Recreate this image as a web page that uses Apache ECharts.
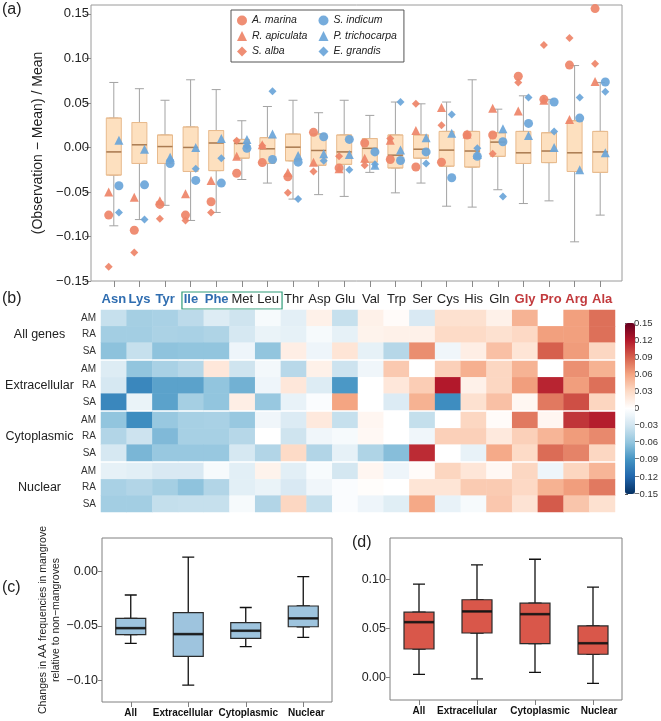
<!DOCTYPE html>
<html><head><meta charset="utf-8">
<script src="https://cdn.jsdelivr.net/npm/echarts@6/dist/echarts.min.js"></script>
<style>html,body{margin:0;padding:0;background:#fff}#c{width:661px;height:721px}</style>
</head><body><div id="c"></div>
<script>
// ---------------- DATA ----------------
const aminoAcids = ['Asn','Lys','Tyr','Ile','Phe','Met','Leu','Thr','Asp','Glu','Val','Trp','Ser','Cys','His','Gln','Gly','Pro','Arg','Ala'];
const blueAA = ['Asn','Lys','Tyr','Ile','Phe'];
const redAA = ['Gly','Pro','Arg','Ala'];
const boxedAA = ['Ile','Leu'];

// panel (a) box statistics
const boxMin    = [-0.088,-0.081,-0.065,-0.082,-0.073,-0.036,-0.040,-0.058,-0.053,-0.055,-0.028,-0.051,-0.040,-0.066,-0.067,-0.0475,-0.063,-0.060,-0.106,-0.076];
const boxQ1     = [-0.031,-0.018,-0.018,-0.027,-0.026,-0.012,-0.018,-0.015,-0.020,-0.019,-0.0165,-0.023,-0.012,-0.021,-0.022,-0.010,-0.018,-0.017,-0.027,-0.028];
const boxMedian = [-0.005,0.003,0.001,0.000,0.005,0.0045,-0.0015,0.0003,-0.0034,-0.005,-0.001,-0.0087,-0.002,-0.003,-0.004,0.006,-0.006,-0.004,-0.006,-0.005];
const boxQ3     = [0.033,0.028,0.014,0.023,0.019,0.009,0.011,0.015,0.015,0.014,0.010,0.014,0.014,0.018,0.018,0.0165,0.018,0.0165,0.030,0.018];
const boxMax    = [0.073,0.066,0.053,0.076,0.065,0.030,0.046,0.053,0.039,0.053,0.036,0.051,0.049,0.051,0.076,0.043,0.058,0.054,0.092,0.073];

// panel (a) species points
const aMarina      = [-0.076,-0.093,-0.064,-0.076,-0.061,-0.029,-0.017,-0.033,0.017,-0.023,0.005,-0.0135,-0.022,-0.0165,0.014,0.014,0.080,0.054,0.0925,0.156];
const rApiculata   = [-0.050,-0.056,-0.060,-0.052,-0.037,-0.010,0.003,-0.028,-0.0165,-0.024,-0.012,0.008,0.019,0.045,0.015,0.044,0.041,0.053,0.0315,0.074];
const sAlba        = [-0.134,-0.118,-0.080,-0.082,-0.073,0.0075,0.002,-0.051,-0.027,-0.010,-0.020,0.010,0.049,0.025,0.014,-0.007,0.073,0.115,0.123,0.094];
const sIndicum     = [-0.043,-0.042,-0.018,-0.037,-0.040,-0.001,-0.0135,-0.0165,0.012,0.009,-0.005,-0.0146,-0.005,-0.034,-0.010,0.0064,0.027,0.051,0.033,0.0735];
const pTrichocarpa = [0.008,-0.002,-0.011,0.000,0.010,0.009,0.015,-0.009,-0.007,-0.008,-0.020,-0.003,0.011,0.016,-0.008,0.021,0.0135,0.000,-0.025,-0.006];
const eGrandis     = [-0.073,-0.081,-0.014,-0.024,-0.012,0.0015,0.063,-0.058,-0.015,-0.025,-0.019,0.051,-0.018,0.037,-0.001,-0.055,0.056,0.018,0.056,0.0625];

// panel (b) heatmap
const heatRowNames = ['AM','RA','SA'];
const groupNames = ['All genes','Extracellular','Cytoplasmic','Nuclear'];
const allAM = [-0.035,-0.051,-0.049,-0.040,-0.022,-0.031,-0.006,-0.018,0.012,-0.035,0.012,0.003,-0.025,0.025,0.025,0.012,0.052,0.000,0.062,0.083];
const allRA = [-0.052,-0.052,-0.048,-0.049,-0.046,-0.027,-0.014,-0.016,-0.006,-0.016,0.010,0.012,0.012,0.030,0.030,0.025,0.031,0.062,0.062,0.083];
const allSA = [-0.062,-0.035,-0.061,-0.060,-0.060,-0.011,-0.060,0.014,-0.011,0.022,-0.016,-0.043,0.070,-0.010,0.014,0.045,0.022,0.090,0.064,0.032];
const extAM = [-0.022,-0.060,-0.049,-0.043,0.020,-0.031,-0.008,-0.042,0.012,-0.032,-0.010,0.040,0.000,0.036,0.054,0.032,0.052,0.000,0.069,0.053];
const extRA = [-0.027,-0.098,-0.081,-0.081,-0.060,-0.072,-0.011,0.020,-0.022,-0.087,0.000,0.020,0.038,0.120,0.012,0.032,0.063,0.115,0.063,0.083];
const extSA = [-0.098,-0.014,-0.081,-0.051,-0.060,0.014,-0.057,-0.015,-0.003,0.060,0.000,-0.023,0.053,-0.094,0.025,0.045,0.007,0.079,0.097,0.033];
const cytAM = [-0.060,-0.094,-0.057,-0.050,-0.049,-0.057,-0.010,-0.023,0.018,-0.035,0.0075,0.000,-0.036,0.000,0.032,0.003,0.079,0.0075,0.108,0.118];
const cytRA = [-0.045,-0.032,-0.067,-0.050,-0.050,-0.043,0.000,-0.031,-0.010,-0.006,0.006,0.000,-0.010,0.036,0.036,0.018,0.036,0.051,0.064,0.072];
const cytSA = [-0.027,-0.069,-0.057,-0.057,-0.057,-0.027,-0.045,0.030,-0.045,-0.016,-0.046,-0.064,0.112,0.000,-0.015,0.057,0.030,0.085,0.075,0.032];
const nucAM = [-0.016,-0.019,-0.025,-0.025,-0.006,-0.019,0.010,-0.019,-0.005,-0.028,0.0075,-0.011,0.003,0.033,0.021,0.006,0.032,-0.011,0.033,0.051];
const nucRA = [-0.049,-0.045,-0.051,-0.061,-0.045,-0.019,-0.014,-0.025,-0.010,-0.003,0.002,0.000,0.022,0.022,0.039,0.039,0.031,0.053,0.063,0.079];
const nucSA = [-0.052,-0.052,-0.036,-0.035,-0.035,-0.006,-0.045,0.032,-0.035,-0.003,-0.011,-0.020,0.058,-0.015,-0.006,0.041,0.023,0.092,0.042,0.025];
const colorbarTicks = [-0.15,-0.12,-0.09,-0.06,-0.03,0,0.03,0.06,0.09,0.12,0.15];

// panels (c) & (d)
const compartments = ['All','Extracellular','Cytoplasmic','Nuclear'];
const decreasedStats = [[-0.066,-0.058,-0.052,-0.043,-0.0215],[-0.1045,-0.078,-0.0575,-0.0378,0.0133],[-0.069,-0.0615,-0.0544,-0.047,-0.033],[-0.0605,-0.0507,-0.043,-0.0316,-0.0046]];
const increasedStats = [[0.003,0.029,0.0565,0.0667,0.0955],[-0.0017,0.0454,0.0675,0.0795,0.1153],[0.0051,0.0345,0.0647,0.076,0.121],[-0.0062,0.0236,0.0349,0.0527,0.0924]];
const ticksA = [-0.15,-0.10,-0.05,0,0.05,0.10,0.15];
const ticksC = [-0.10,-0.05,0];
const ticksD = [0,0.05,0.10];

// ---------------- CHART ----------------
const FONT = '"Liberation Sans", Arial, Helvetica, sans-serif';
const RED = '#ee8468', BLUE = '#6aa5d9';
const fmt = v => Math.abs(v) < 1e-9 ? '0.00' : (v < 0 ? '\u2212' : '') + Math.abs(v).toFixed(2);
const fmtCb = v => Math.abs(v) < 1e-9 ? '0' : (v < 0 ? '\u2212' : '') + Math.abs(v).toFixed(2);
const heatGroups = [[allAM, allRA, allSA],[extAM, extRA, extSA],[cytAM, cytRA, cytSA],[nucAM, nucRA, nucSA]];
const aStats = aminoAcids.map((_, i) => [boxMin[i], boxQ1[i], boxMedian[i], boxQ3[i], boxMax[i]]);

const chart = echarts.init(document.getElementById('c'));

const grids = [
  {left: 91, top: 5, width: 531, height: 276, show: true, borderColor: '#9a9a9a', borderWidth: 1},
  {left: 101, top: 5, width: 512, height: 276}
];
const heatTops = [310, 361, 412, 463];
heatTops.forEach(t => grids.push({left: 101, top: t, width: 514, height: 49}));
grids.push({left: 625, top: 323, width: 10, height: 171});
grids.push({left: 102, top: 538, width: 230, height: 164, show: true, borderColor: '#808080', borderWidth: 1});
grids.push({left: 390, top: 538, width: 232, height: 162, show: true, borderColor: '#808080', borderWidth: 1});

// small horizontal nudges of the (c)/(d) category labels, as in the original figure
const labelShift = [[0, -5.5, 2.5, 3], [0, -10, 5, 6]];
function shiftedLabelAxis(gi, shifts) {
  const rich = {};
  compartments.forEach((c, i) => {
    const s = shifts[i];
    rich['k' + i] = {fontWeight: 'bold', fontSize: 10, color: '#111', fontFamily: FONT,
      padding: s < 0 ? [0, -2 * s, 0, 0] : [0, 0, 0, 2 * s]};
  });
  return {
    gridIndex: gi, type: 'category', data: compartments, axisLine: {show: false, onZero: false},
    axisTick: {show: true, alignWithLabel: true, interval: 0, length: 5, lineStyle: {color: '#808080'}},
    axisLabel: {interval: 0, margin: 6, formatter: (v, i) => '{k' + i + '|' + v + '}', rich}
  };
}

const xAxes = [
  {gridIndex: 0, type: 'value', show: false, min: 0, max: 1},
  {gridIndex: 1, type: 'category', data: aminoAcids, axisLine: {show: false, onZero: false},
   axisTick: {show: true, alignWithLabel: true, interval: 0, length: 6, lineStyle: {color: '#8a8a8a'}},
   axisLabel: {show: false}},
  {gridIndex: 1, type: 'value', show: false, min: -0.5, max: 19.5}
];
heatGroups.forEach((g, gi) => xAxes.push({
  gridIndex: 2 + gi, type: 'category', data: aminoAcids, position: 'top',
  axisLine: {show: false}, axisTick: {show: false},
  axisLabel: gi === 0 ? {
    show: true, interval: 0, margin: 4, fontSize: 13, color: '#222', fontFamily: FONT,
    formatter: v => blueAA.includes(v) ? '{b|' + v + '}' : redAA.includes(v) ? '{r|' + v + '}' : v,
    rich: {b: {color: '#2f6db0', fontWeight: 'bold', fontSize: 13, fontFamily: FONT},
           r: {color: '#c23a3d', fontWeight: 'bold', fontSize: 13, fontFamily: FONT}}
  } : {show: false}
}));
xAxes.push({gridIndex: 6, type: 'value', show: false, min: 0, max: 1});
xAxes.push(shiftedLabelAxis(7, labelShift[0]));
xAxes.push(shiftedLabelAxis(8, labelShift[1]));
// hidden twin category axes (so stacked boxplot layers are not laid side by side)
xAxes.push({gridIndex: 1, type: 'category', data: aminoAcids, show: false}); // 10
xAxes.push({gridIndex: 7, type: 'category', data: compartments, show: false}); // 11
xAxes.push({gridIndex: 8, type: 'category', data: compartments, show: false}); // 12

const yAxes = [
  {gridIndex: 0, type: 'value', min: -0.15, max: 0.16, splitLine: {show: false}, axisLine: {show: false},
   axisTick: {show: true, length: 6, customValues: ticksA, lineStyle: {color: '#8a8a8a'}},
   axisLabel: {customValues: ticksA, formatter: fmt, fontSize: 13, color: '#222', margin: 2, fontFamily: FONT},
   name: '(Observation \u2212 Mean) / Mean', nameLocation: 'middle', nameGap: 38,
   nameTextStyle: {fontSize: 14, color: '#222', fontFamily: FONT}},
  {gridIndex: 1, type: 'value', show: false, min: -0.15, max: 0.16}
];
heatGroups.forEach((g, gi) => yAxes.push({
  gridIndex: 2 + gi, type: 'category', data: heatRowNames, inverse: true,
  axisLine: {show: false}, axisTick: {show: false},
  axisLabel: {fontSize: 10, color: '#333', margin: 5, fontFamily: FONT},
  name: groupNames[gi], nameLocation: 'middle', nameRotate: 0, nameGap: 61.5,
  nameTextStyle: {fontSize: 12.5, color: '#222', align: 'center', verticalAlign: 'middle', fontFamily: FONT}
}));
yAxes.push({gridIndex: 6, type: 'value', min: -0.15, max: 0.15, position: 'right', splitLine: {show: false},
  axisLine: {show: false}, axisTick: {show: true, length: 3, customValues: colorbarTicks, lineStyle: {color: '#555'}},
  axisLabel: {customValues: colorbarTicks, formatter: fmtCb, fontSize: 9.5, color: '#333', margin: 2, fontFamily: FONT}});
yAxes.push({gridIndex: 7, type: 'value', min: -0.12, max: 0.031, splitLine: {show: false}, axisLine: {show: false},
  axisTick: {show: true, length: 4, customValues: ticksC, lineStyle: {color: '#808080'}},
  axisLabel: {customValues: ticksC, formatter: fmt, fontSize: 12.5, color: '#222', margin: 4, fontFamily: FONT},
  name: 'Changes in AA frequencies in mangrove\nrelative to non\u2212mangroves', nameLocation: 'middle', nameGap: 37,
  nameTextStyle: {fontSize: 10.5, lineHeight: 13, color: '#222', fontFamily: FONT}});
yAxes.push({gridIndex: 8, type: 'value', min: -0.0233, max: 0.1428, splitLine: {show: false}, axisLine: {show: false},
  axisTick: {show: true, length: 4, customValues: ticksD, lineStyle: {color: '#808080'}},
  axisLabel: {customValues: ticksD, formatter: fmt, fontSize: 12.5, color: '#222', margin: 4, fontFamily: FONT}});

const series = [];
// panel (a) boxes
series.push({type: 'boxplot', xAxisIndex: 1, yAxisIndex: 1, boxWidth: [9, 9], data: aStats, silent: true,
  itemStyle: {color: 'none', borderColor: '#a3a3a3', borderWidth: 1}});
series.push({type: 'boxplot', xAxisIndex: 10, yAxisIndex: 1, boxWidth: [15, 15], silent: true,
  data: aStats.map(s => [s[1], s[1], s[2], s[3], s[3]]),
  itemStyle: {color: '#fde0bf', borderColor: '#e8bb8e', borderWidth: 1}});
series.push({type: 'scatter', xAxisIndex: 1, yAxisIndex: 1, symbol: 'rect', symbolSize: [15, 1.5], silent: true,
  data: boxMedian.map((v, i) => [i, v]), itemStyle: {color: '#9a6a42'}});
const sp = [
  ['A. marina', aMarina, 'circle', 9, RED, -0.2],
  ['R. apiculata', rApiculata, 'triangle', 9, RED, -0.2],
  ['S. alba', sAlba, 'diamond', 8, RED, -0.2],
  ['S. indicum', sIndicum, 'circle', 9, BLUE, 0.2],
  ['P. trichocarpa', pTrichocarpa, 'triangle', 9, BLUE, 0.2],
  ['E. grandis', eGrandis, 'diamond', 8, BLUE, 0.2]
];
sp.forEach(([name, vals, sym, size, col, off]) => series.push({
  type: 'scatter', name, xAxisIndex: 2, yAxisIndex: 1, symbol: sym, symbolSize: size,
  data: vals.map((v, i) => [i + off, v]), itemStyle: {color: col, opacity: 0.92}
}));
// panel (b) heatmaps
const heatSeriesIdx = [];
heatGroups.forEach((rows, gi) => {
  const data = [];
  rows.forEach((row, ri) => row.forEach((v, ci) => data.push([ci, ri, v])));
  heatSeriesIdx.push(series.length);
  series.push({type: 'heatmap', xAxisIndex: 3 + gi, yAxisIndex: 2 + gi, data, silent: true});
});
// panels (c) & (d)
[[decreasedStats, 8, 11, 7, '#9ec4de'], [increasedStats, 9, 12, 8, '#d9574a']].forEach(([stats, xi, xi2, yi, fill]) => {
  series.push({type: 'boxplot', xAxisIndex: xi, yAxisIndex: yi, boxWidth: [12, 12], data: stats, silent: true,
    itemStyle: {color: 'none', borderColor: '#111', borderWidth: 1.3}});
  series.push({type: 'boxplot', xAxisIndex: xi2, yAxisIndex: yi, boxWidth: [30, 30], silent: true,
    data: stats.map(s => [s[1], s[1], s[2], s[3], s[3]]),
    itemStyle: {color: fill, borderColor: '#2a2a2a', borderWidth: 1.2}});
  series.push({type: 'scatter', xAxisIndex: xi, yAxisIndex: yi, symbol: 'rect', symbolSize: [30, 2.6], silent: true,
    data: stats.map((s, i) => [i, s[2]]), itemStyle: {color: '#111'}});
});

const panelLetters = [['(a)', 2, 2], ['(b)', 2, 291], ['(c)', 2, 580], ['(d)', 352, 535]];
const graphics = panelLetters.map(([t, x, y]) => ({type: 'text', left: x, top: y,
  style: {text: t, fontSize: 16, fill: '#222', fontFamily: FONT}}));

const option = {
  animation: false,
  backgroundColor: '#fff',
  textStyle: {fontFamily: FONT},
  grid: grids, xAxis: xAxes, yAxis: yAxes, series,
  legend: {
    orient: 'vertical', left: 231, top: 10, height: 46,
    itemWidth: 10, itemHeight: 10, itemGap: 4.5, padding: [5, 7, 5, 6],
    borderColor: '#555', borderWidth: 1, backgroundColor: '#fff', selectedMode: false,
    textStyle: {fontStyle: 'italic', fontSize: 10.5, color: '#222', lineHeight: 10, width: 62, fontFamily: FONT},
    data: sp.map(s => ({name: s[0], icon: s[2]}))
  },
  visualMap: {
    type: 'continuous', min: -0.15, max: 0.15, seriesIndex: heatSeriesIdx,
    left: 625, top: 323, itemWidth: 10, itemHeight: 171, padding: 0, calculable: false, hoverLink: false,
    inRange: {color: ['#053061','#2166ac','#4393c3','#92c5de','#d1e5f0','#ffffff','#fddbc7','#f4a582','#d6604d','#b2182b','#67001f']}
  },
  graphic: graphics
};
chart.setOption(option);

// green box around Ile ... Leu header labels
const xL = chart.convertToPixel({xAxisIndex: 3}, aminoAcids.indexOf(boxedAA[0]));
const xR = chart.convertToPixel({xAxisIndex: 3}, aminoAcids.indexOf(boxedAA[1]));
chart.setOption({graphic: graphics.concat([{type: 'rect', shape: {x: xL - 9, y: 292, width: (xR + 14) - (xL - 9), height: 17},
  style: {fill: 'none', stroke: '#2f9c78', lineWidth: 1.2}}])});
</script></body></html>
